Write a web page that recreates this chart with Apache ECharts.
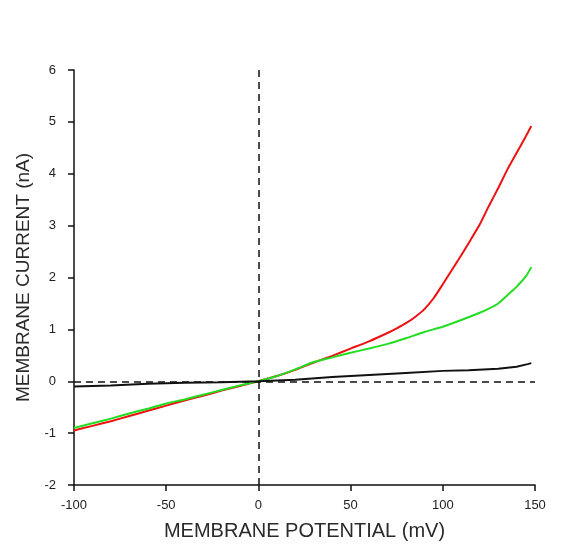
<!DOCTYPE html>
<html>
<head>
<meta charset="utf-8">
<script src="https://cdn.jsdelivr.net/npm/echarts@6/dist/echarts.min.js"></script>
<style>
html,body{margin:0;padding:0;background:#fff;}
#chart{width:582px;height:546px;}
</style>
</head>
<body>
<div id="chart"></div>
<script>
// Membrane potential (mV) sample points and currents (nA)
const redV = [-100,-90,-80,-70,-60,-50,-40,-30,-20,-10,0,10,20,30,40,50,60,70,75,80,85,90,95,100,105,110,115,120,125,130,135,140,145,148];
const redI = [-0.95,-0.86,-0.77,-0.67,-0.57,-0.47,-0.37,-0.28,-0.18,-0.09,0,0.1,0.22,0.36,0.49,0.63,0.77,0.93,1.02,1.12,1.24,1.39,1.6,1.87,2.15,2.43,2.72,3.02,3.38,3.72,4.08,4.4,4.72,4.92];
const greenV = [-100,-90,-80,-70,-60,-50,-40,-30,-20,-10,0,10,20,30,40,50,60,70,80,90,100,110,120,125,130,136,140,145,148];
const greenI = [-0.9,-0.81,-0.72,-0.62,-0.53,-0.43,-0.35,-0.26,-0.17,-0.08,0,0.1,0.23,0.37,0.46,0.55,0.63,0.72,0.83,0.95,1.05,1.18,1.32,1.4,1.5,1.69,1.82,2.02,2.2];
const blackV = [-100,-80,-60,-40,-20,0,20,40,60,80,100,114,130,140,146,148];
const blackI = [-0.1,-0.08,-0.05,-0.03,-0.02,0,0.03,0.08,0.12,0.16,0.2,0.21,0.24,0.28,0.33,0.35];
const xTicks = [-100,-50,0,50,100,150];
const yTicks = [-2,-1,0,1,2,3,4,5,6];

const zip = (xs, ys) => xs.map((x, i) => [x, ys[i]]);
const font = 'Liberation Sans, Arial, sans-serif';

const chart = echarts.init(document.getElementById('chart'));
chart.setOption({
  animation: false,
  backgroundColor: '#fff',
  grid: {left: 74, right: 47, top: 70, bottom: 59, containLabel: false},
  xAxis: {
    type: 'value', min: xTicks[0], max: xTicks[xTicks.length-1], interval: 50,
    name: 'MEMBRANE POTENTIAL (mV)', nameLocation: 'middle', nameGap: 36,
    nameTextStyle: {fontFamily: font, fontSize: 20, color: '#2a2a2a'},
    axisLine: {onZero: false, lineStyle: {color: '#111', width: 1.5}},
    axisTick: {show: true, length: 6, lineStyle: {color: '#111', width: 1.5}},
    axisLabel: {fontFamily: font, fontSize: 13, color: '#222', margin: 14},
    splitLine: {show: false}
  },
  yAxis: {
    type: 'value', min: yTicks[0], max: yTicks[yTicks.length-1], interval: 1,
    name: 'MEMBRANE CURRENT (nA)', nameLocation: 'middle', nameGap: 40,
    nameTextStyle: {fontFamily: font, fontSize: 19, color: '#2a2a2a'},
    axisLine: {show: true, onZero: false, lineStyle: {color: '#111', width: 1.5}},
    axisTick: {show: true, length: 6, lineStyle: {color: '#111', width: 1.5}},
    axisLabel: {fontFamily: font, fontSize: 13, color: '#222', margin: 18},
    splitLine: {show: false}
  },
  series: [
    {
      type: 'line', data: zip(redV, redI), showSymbol: false, smooth: 0.2,
      lineStyle: {color: '#ee1111', width: 2}, z: 2
    },
    {
      type: 'line', data: zip(greenV, greenI), showSymbol: false, smooth: 0.2,
      lineStyle: {color: '#22dd22', width: 2}, z: 3
    },
    {
      type: 'line', data: zip(blackV, blackI), showSymbol: false,
      lineStyle: {color: '#111', width: 2}, z: 4,
      markLine: {
        silent: true, symbol: 'none', label: {show: false},
        lineStyle: {color: '#111', width: 1.5, type: [7, 5]},
        data: [{yAxis: 0}, {xAxis: 0}]
      }
    }
  ]
});
</script>
</body>
</html>
